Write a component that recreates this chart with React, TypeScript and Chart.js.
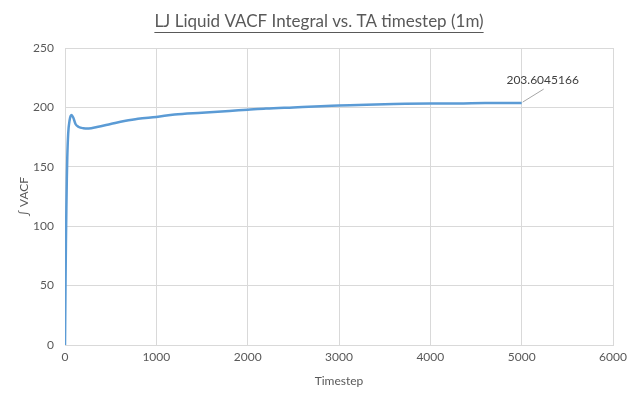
import React, { useEffect, useRef } from "react";
import { Chart, registerables } from "chart.js";

Chart.register(...registerables);

const TITLE = "LJ Liquid VACF Integral vs. TA timestep (1m)";
const X_TITLE = "Timestep";
const Y_TITLE = "∫ VACF";
const LAST_LABEL = "203.6045166";

const timesteps = [0, 5, 10, 15, 20, 25, 35, 50, 70, 90, 115, 150, 200, 260, 350, 500, 650, 800, 1000, 1200, 1500, 1800, 2000, 2200, 2500, 2800, 3000, 3300, 3600, 4000, 4300, 4600, 5000];
const vacfIntegral = [0, 45, 85, 115, 140, 158, 178, 189, 193.5, 191.5, 186, 183.5, 182.5, 182.3, 183.5, 186, 188.5, 190.5, 192, 194, 195.5, 197, 198, 199, 200, 201, 201.5, 202.3, 202.9, 203.3, 203.3, 203.6, 203.6045166];

const FONT = "Lato";

export default function App() {
  const ref = useRef<HTMLCanvasElement>(null);
  useEffect(() => {
    const canvas = ref.current!;
    const overlay = {
      id: "overlay",
      afterDraw(chart: any) {
        const ctx = chart.ctx;
        ctx.save();
        ctx.font = `17px ${FONT}`;
        ctx.fillStyle = "#595959";
        ctx.textAlign = "center";
        ctx.textBaseline = "alphabetic";
        const cx = 319;
        ctx.fillText(TITLE, cx, 27);
        const w = ctx.measureText(TITLE).width;
        ctx.strokeStyle = "#595959";
        ctx.lineWidth = 1;
        ctx.beginPath();
        ctx.moveTo(cx - w / 2, 32.5);
        ctx.lineTo(cx + w / 2, 32.5);
        ctx.stroke();
        const meta = chart.getDatasetMeta(0);
        const pt = meta.data[meta.data.length - 1];
        ctx.strokeStyle = "#a6a6a6";
        ctx.beginPath();
        ctx.moveTo(pt.x + 1, pt.y - 1);
        ctx.lineTo(pt.x + 22, pt.y - 14);
        ctx.stroke();
        ctx.font = `12px ${FONT}`;
        ctx.fillStyle = "#404040";
        ctx.textBaseline = "middle";
        ctx.fillText(LAST_LABEL, pt.x + 21, pt.y - 23);
        ctx.restore();
      },
    };
    const chart = new Chart(canvas, {
      type: "line",
      data: {
        datasets: [
          {
            data: timesteps.map((t, i) => ({ x: t, y: vacfIntegral[i] })),
            borderColor: "#5b9bd5",
            borderWidth: 2.5,
            pointRadius: 0,
            cubicInterpolationMode: "monotone",
            fill: false,
          },
        ],
      },
      options: {
        responsive: false,
        animation: false,
        layout: { padding: { left: 0, right: 24, top: 48, bottom: 0 } },
        plugins: { legend: { display: false }, title: { display: false }, tooltip: { enabled: false } },
        scales: {
          x: {
            type: "linear",
            min: 0,
            max: 6000,
            ticks: { stepSize: 1000, color: "#595959", font: { family: FONT, size: 12 }, padding: 5, maxRotation: 0, callback: (v: any) => String(v) },
            grid: { color: "#d9d9d9", drawTicks: false },
            border: { color: "#d9d9d9" },
            title: { display: true, text: X_TITLE, color: "#595959", font: { family: FONT, size: 12 }, padding: { top: 0, bottom: 13 } },
            afterFit: (s: any) => { s.height = 56; },
          },
          y: {
            min: 0,
            max: 250,
            ticks: { stepSize: 50, color: "#595959", font: { family: FONT, size: 12 }, padding: 11, callback: (v: any) => String(v) },
            grid: { color: "#d9d9d9", drawTicks: false },
            border: { display: false },
            title: { display: true, text: Y_TITLE, color: "#595959", font: { family: FONT, size: 12 }, padding: { top: 17, bottom: 0 } },
            afterFit: (s: any) => { s.width = 65; },
          },
        },
      },
      plugins: [overlay],
    } as any);
    return () => chart.destroy();
  }, []);
  return (
    <div style={{ position: "fixed", left: 0, top: 0, width: 637, height: 401, background: "#fff" }}>
      <canvas ref={ref} width={637} height={401} />
    </div>
  );
}
